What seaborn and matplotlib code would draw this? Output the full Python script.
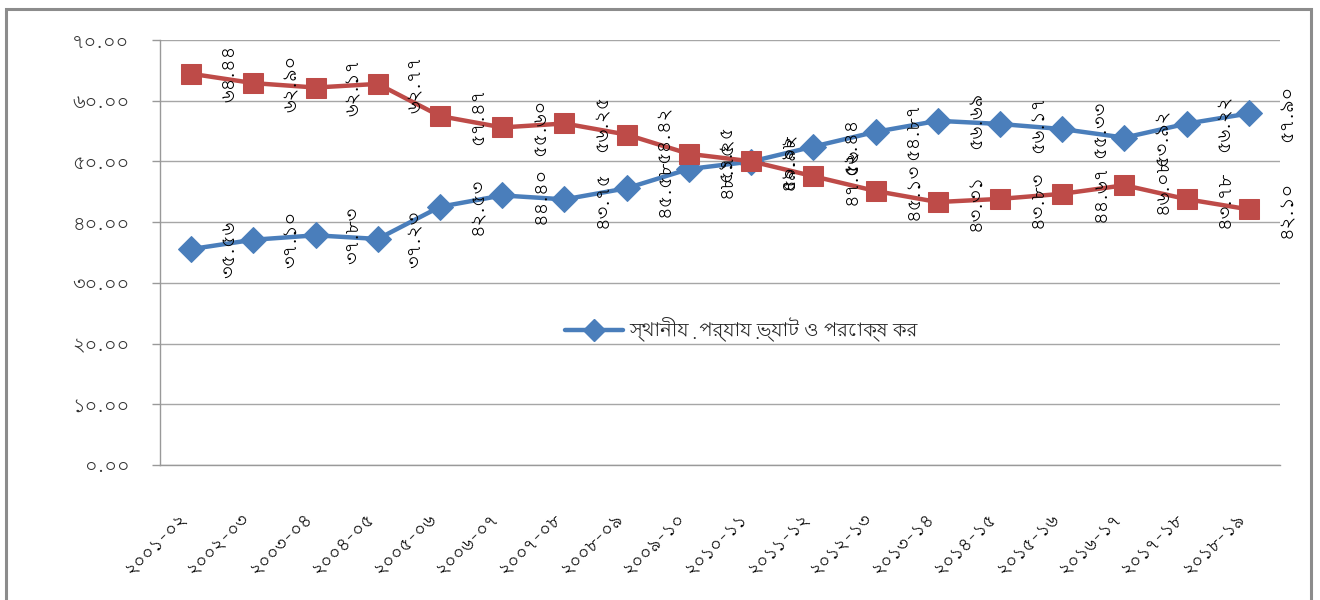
import matplotlib
matplotlib.use("Agg")
import matplotlib.pyplot as plt
import matplotlib.transforms as mtransforms
import seaborn as sns
import pandas as pd
import numpy as np
from matplotlib import font_manager
from matplotlib.ft2font import FT2Font
from matplotlib.lines import Line2D
from matplotlib.patches import Rectangle

# Fiscal years (Bengali numerals)
years = ["২০০১-০২", "২০০২-০৩", "২০০৩-০৪", "২০০৪-০৫", "২০০৫-০৬", "২০০৬-০৭",
         "২০০৭-০৮", "২০০৮-০৯", "২০০৯-১০", "২০১০-১১", "২০১১-১২", "২০১২-১৩",
         "২০১৩-১৪", "২০১৪-১৫", "২০১৫-১৬", "২০১৬-১৭", "২০১৭-১৮", "২০১৮-১৯"]

# Share of local-stage VAT and indirect tax (%)
local_share = [35.56, 37.10, 37.83, 37.23, 42.53, 44.40, 43.75, 45.58, 48.75,
               49.98, 52.44, 54.87, 56.69, 56.17, 55.33, 53.92, 56.22, 57.90]
# Share of import-stage revenue (%)
import_share = [64.44, 62.90, 62.17, 62.77, 57.47, 55.60, 56.25, 54.42, 51.25,
                50.02, 47.56, 45.13, 43.31, 43.83, 44.67, 46.08, 43.78, 42.10]

local_name = "স্থানীয়  পর্যায় ভ্যাট ও পরোক্ষ কর"
yticks = [0, 10, 20, 30, 40, 50, 60, 70]

BN = str.maketrans("0123456789", "০১২৩৪৫৬৭৮৯")


def bn(s):
    return s.translate(BN)


def find_bengali_family():
    """Pick an installed family with Bengali glyphs, preferring proportional sans faces."""
    found = []
    checked = set()
    for fe in font_manager.fontManager.ttflist:
        if fe.fname in checked:
            continue
        checked.add(fe.fname)
        try:
            cmap = FT2Font(fe.fname).get_charmap()
        except Exception:
            continue
        if 0x09E6 in cmap and 0x0995 in cmap:
            found.append(fe.name)
    if not found:
        return None

    def rank(name):
        n = name.lower()
        score = 0
        if "mono" in n or "code" in n:
            score += 100
        if "bengali" in n or "bangla" in n:
            score -= 50
        if "ui" in n:
            score += 5
        if "serif" in n and "sans" not in n:
            score += 10
        if "lohit" in n or "mukti" in n or "akaash" in n:
            score -= 30
        if "freesans" in n:
            score -= 20
        return score

    return sorted(set(found), key=rank)[0]


sns.set_theme(style="white")
bfam = find_bengali_family()
families = ([bfam] if bfam else []) + ["DejaVu Sans"]
plt.rcParams["font.family"] = families

blue = "#4A7EBB"
red = "#BE4B48"

df_local = pd.DataFrame({"year": years, "value": local_share})
df_import = pd.DataFrame({"year": years, "value": import_share})

fig = plt.figure(figsize=(13.2, 6), dpi=100)
ax = fig.add_axes([160 / 1320, 135 / 600, 1120 / 1320, 425 / 600])

sns.lineplot(data=df_local, x="year", y="value", ax=ax, color=blue, lw=3.2,
             marker="D", markersize=13, markeredgecolor=blue, sort=False,
             label=local_name)
sns.lineplot(data=df_import, x="year", y="value", ax=ax, color=red, lw=3.2,
             marker="s", markersize=14, markeredgecolor=red, sort=False,
             label="_import")

# value labels, rotated, to the right of each marker
xs = np.arange(len(years))
for series in (local_share, import_share):
    for x, v in zip(xs, series):
        ax.annotate(bn(f"{v:.2f}"), (x, v), xytext=(27, 0),
                    textcoords="offset points", rotation=90,
                    ha="center", va="center", fontsize=14, color="black")

ax.set_xlim(-0.5, len(years) - 0.5)
ax.set_ylim(0, 70)
ax.set_yticks(yticks)
ax.set_yticklabels([bn(f"{t:.2f}") for t in yticks], fontsize=14, color="#333333")
ax.set_xticks(xs)
ax.set_xticklabels(years, rotation=45, ha="right", fontsize=13, color="black")
shift = mtransforms.ScaledTranslation(8 / 100, 0, fig.dpi_scale_trans)
for lab in ax.get_xticklabels():
    lab.set_transform(lab.get_transform() + shift)
ax.set_xticks(np.arange(-0.5, len(years)), minor=True)
ax.tick_params(axis="x", which="major", length=0, pad=32)
ax.tick_params(axis="x", which="minor", length=7, color="#999999", width=1)
ax.tick_params(axis="y", which="major", length=6, color="#999999", width=1,
               pad=16, left=True)
ax.set_xlabel("")
ax.set_ylabel("")

ax.grid(axis="y", color="#a6a6a6", lw=1)
ax.grid(axis="x", visible=False)
for s in ("top", "right"):
    ax.spines[s].set_visible(False)
for s in ("left", "bottom"):
    ax.spines[s].set_color("#999999")
    ax.spines[s].set_linewidth(1)

# legend: only the local-stage series
handle = Line2D([], [], color=blue, lw=3.2, marker="D", markersize=11)
ax.legend([handle], [local_name], loc="center",
          bbox_to_anchor=(741 / 1320, 270 / 600), bbox_transform=fig.transFigure,
          frameon=False, fontsize=14, handlelength=3.0, handletextpad=0.3)

# outer chart frame
fig.patches.append(Rectangle((6 / 1320, -0.05), 1305 / 1320, 1.05 - 9 / 600,
                             transform=fig.transFigure, fill=False,
                             edgecolor="#8c8c8c", lw=2.2))

fig.savefig("out.png", dpi=100, facecolor="white")
